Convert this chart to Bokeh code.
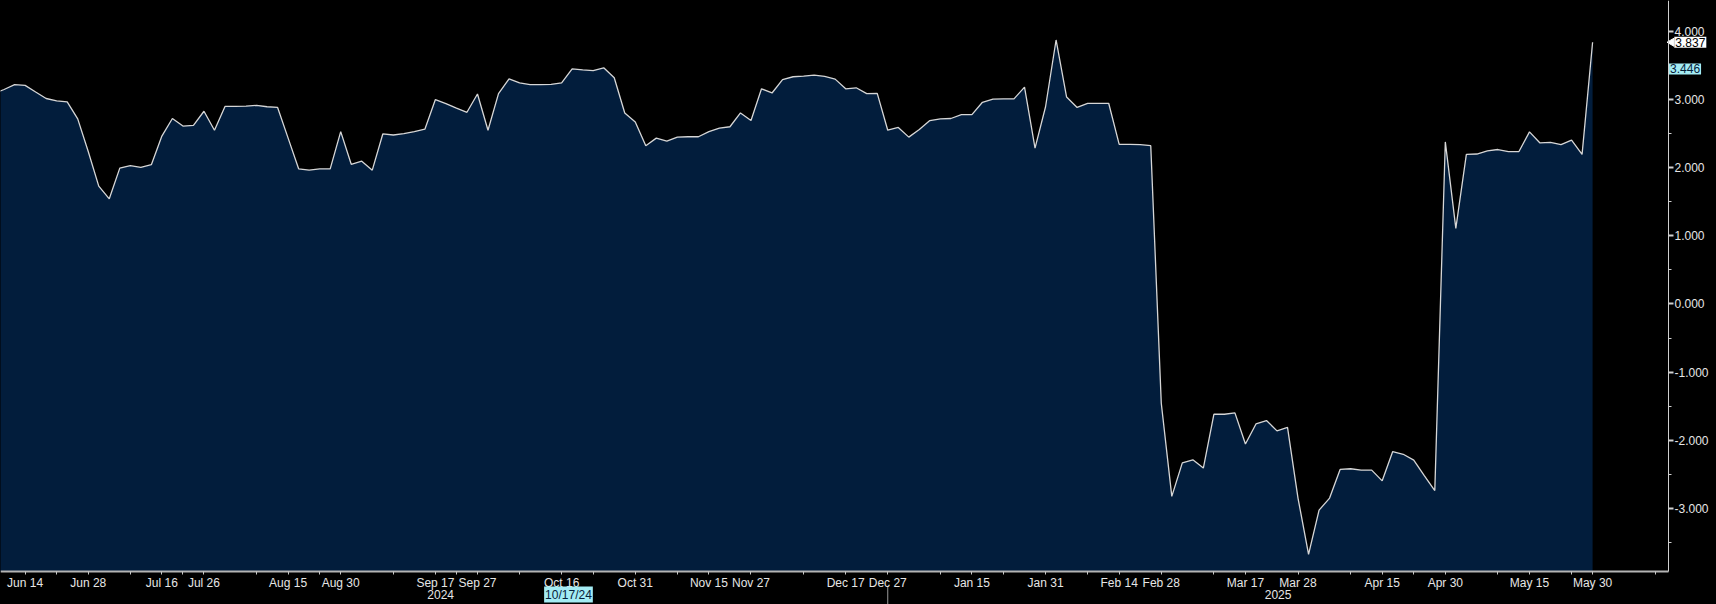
import math
from bokeh.plotting import figure
from bokeh.models import (Range1d, FixedTicker, PrintfTickFormatter, Label,
                          ColumnDataSource, GlobalInlineStyleSheet)
from bokeh.embed import file_html
from bokeh.resources import INLINE

# ---- data ----
values = [
    3.083, 3.144, 3.215, 3.205, 3.108, 3.012, 2.977, 2.962, 2.714, 2.234,
    1.728, 1.541, 1.991, 2.027, 2.001, 2.042, 2.461, 2.719, 2.608, 2.618,
    2.825, 2.547, 2.896, 2.896, 2.901, 2.911, 2.891, 2.881, 2.431, 1.981,
    1.961, 1.981, 1.981, 2.527, 2.047, 2.092, 1.961, 2.492, 2.477, 2.497,
    2.527, 2.562, 2.997, 2.937, 2.871, 2.810, 3.078, 2.547, 3.083, 3.301,
    3.240, 3.215, 3.215, 3.220, 3.240, 3.446, 3.432, 3.422, 3.462, 3.316,
    2.800, 2.669, 2.320, 2.431, 2.386, 2.446, 2.451, 2.451, 2.527, 2.578,
    2.598, 2.800, 2.689, 3.154, 3.093, 3.290, 3.331, 3.341, 3.356, 3.336,
    3.296, 3.154, 3.169, 3.083, 3.088, 2.547, 2.588, 2.446, 2.557, 2.689,
    2.714, 2.719, 2.775, 2.775, 2.957, 3.002, 3.007, 3.007, 3.179, 2.284,
    2.891, 3.870, 3.033, 2.881, 2.942, 2.942, 2.942, 2.340, 2.340, 2.335,
    2.320, -1.457, -2.822, -2.331, -2.286, -2.407, -1.618, -1.618, -1.598, -2.053,
    -1.760, -1.710, -1.861, -1.811, -2.850, -3.671, -3.024, -2.847, -2.427, -2.417,
    -2.437, -2.437, -2.594, -2.164, -2.205, -2.291, -2.518, -2.736, 2.375, 1.107,
    2.193, 2.198, 2.244, 2.264, 2.234, 2.234, 2.522, 2.360, 2.370, 2.335,
    2.401, 2.193, 3.837,
]
tick_index = [3, 9, 16, 20, 28, 33, 42, 46, 54, 61, 68, 72, 81, 85, 93, 100,
              107, 111, 119, 124, 132, 138, 146, 152]
tick_labels = ["Jun 14", "Jun 28", "Jul 16", "Jul 26", "Aug 15", "Aug 30",
               "Sep 17", "Sep 27", "Oct 16", "Oct 31", "Nov 15", "Nov 27",
               "Dec 17", "Dec 27", "Jan 15", "Jan 31", "Feb 14", "Feb 28",
               "Mar 17", "Mar 28", "Apr 15", "Apr 30", "May 15", "May 30"]
minor_index = [6, 13, 18, 25, 31, 38, 44, 50, 57, 65, 77, 90, 96, 104, 116,
               129, 135, 143, 150, 158]
year_labels = ["2024", "2025"]
year_index = [42.5, 122.1]
year_break_index = 85
last_value = 3.837
cursor_value = 3.446
cursor_index = 54.65
cursor_date = "10/17/24"
y_ticks = [-3, -2, -1, 0, 1, 2, 3, 4]
y_minor = [-3.5, -2.5, -1.5, -0.5, 0.5, 1.5, 2.5, 3.5]

# ---- layout constants ----
W, H = 1716, 604
PX_PER_PT = 10.52
PX_PER_UNIT = 68.2
X0 = 0.66
X1 = X0 + W / PX_PER_PT
AXIS_X = X0 + 1668 / PX_PER_PT          # where the value axis sits
Y_TOP = 4.449
Y_BOT = Y_TOP - H / PX_PER_UNIT
Y_AXIS = Y_TOP - 571 / PX_PER_UNIT      # where the date axis sits
ROW2 = Y_TOP - 594 / PX_PER_UNIT
DIV_TOP = Y_TOP - 586 / PX_PER_UNIT

FONT = "Liberation Sans"
src = ColumnDataSource(dict(x=list(range(len(values))), y=values))

p = figure(width=W, height=H, output_backend="svg", toolbar_location=None,
           x_range=Range1d(X0, X1), y_range=Range1d(Y_BOT, Y_TOP),
           y_axis_location="right",
           background_fill_color="black", border_fill_color="black",
           outline_line_color=None, min_border=0)
p.stylesheets = [GlobalInlineStyleSheet(css="html, body { margin: 0; padding: 0; background: #000; overflow: hidden; }")]
p.grid.visible = False

p.varea(x="x", y1=Y_AXIS, y2="y", source=src, fill_color="#021d3c")
p.line(x="x", y="y", source=src, line_color="#d6d6d6", line_width=1.3)

xa = p.xaxis[0]
xa.fixed_location = Y_AXIS
xa.bounds = (X0, AXIS_X)
xa.ticker = FixedTicker(ticks=tick_index, minor_ticks=minor_index)
xa.major_label_overrides = {i: t for i, t in zip(tick_index, tick_labels)}
xa.axis_line_color = "#b4b4b4"
xa.axis_line_width = 2
xa.major_tick_in = 0
xa.major_tick_out = 3
xa.minor_tick_in = 0
xa.minor_tick_out = 3
xa.major_tick_line_color = "#c8c8c8"
xa.minor_tick_line_color = "#c8c8c8"
xa.major_label_standoff = 1
xa.major_label_text_color = "#e6e6e6"
xa.major_label_text_font = FONT
xa.major_label_text_font_size = "12px"

ya = p.yaxis[0]
ya.fixed_location = AXIS_X
ya.bounds = (Y_AXIS, Y_TOP)
ya.ticker = FixedTicker(ticks=y_ticks, minor_ticks=y_minor)
ya.formatter = PrintfTickFormatter(format="%.3f")
ya.axis_line_color = "#d0d0d0"
ya.axis_line_width = 1
ya.major_tick_in = 0
ya.major_tick_out = 5
ya.major_tick_line_width = 2
ya.minor_tick_in = 0
ya.minor_tick_out = 3
ya.major_tick_line_color = "#d0d0d0"
ya.minor_tick_line_color = "#d0d0d0"
ya.major_label_standoff = 1
ya.major_label_text_color = "#e6e6e6"
ya.major_label_text_font = FONT
ya.major_label_text_font_size = "12px"

# last-value tag (white with a pointer) and cursor tags (cyan)
p.scatter(x=[AXIS_X + 0.3], y=[last_value], marker="triangle", size=8,
          angle=math.pi / 2, fill_color="white", line_color="white")
p.add_layout(Label(x=AXIS_X + 0.55, y=last_value, text=f"{last_value:.3f}",
                   text_font=FONT, text_font_size="12px", text_color="black",
                   background_fill_color="white", text_baseline="middle",
                   text_align="left", padding=1))
p.add_layout(Label(x=AXIS_X + 0.05, y=cursor_value, text=f"{cursor_value:.3f}",
                   text_font=FONT, text_font_size="12px", text_color="#06203a",
                   background_fill_color="#a4ecf4", text_baseline="middle",
                   text_align="left", padding=1))
p.add_layout(Label(x=cursor_index, y=ROW2, text=cursor_date,
                   text_font=FONT, text_font_size="12px", text_color="#06203a",
                   background_fill_color="#a4ecf4", text_baseline="middle",
                   text_align="center", padding=1))
for t, xi in zip(year_labels, year_index):
    p.add_layout(Label(x=xi, y=ROW2, text=t, text_font=FONT,
                       text_font_size="12px", text_color="#e6e6e6",
                       text_baseline="middle", text_align="center"))
p.segment(x0=[year_break_index], y0=[DIV_TOP],
          x1=[year_break_index], y1=[Y_BOT], line_color="#9a9a9a", line_width=1)

open("out.html", "w").write(file_html(p, INLINE))
